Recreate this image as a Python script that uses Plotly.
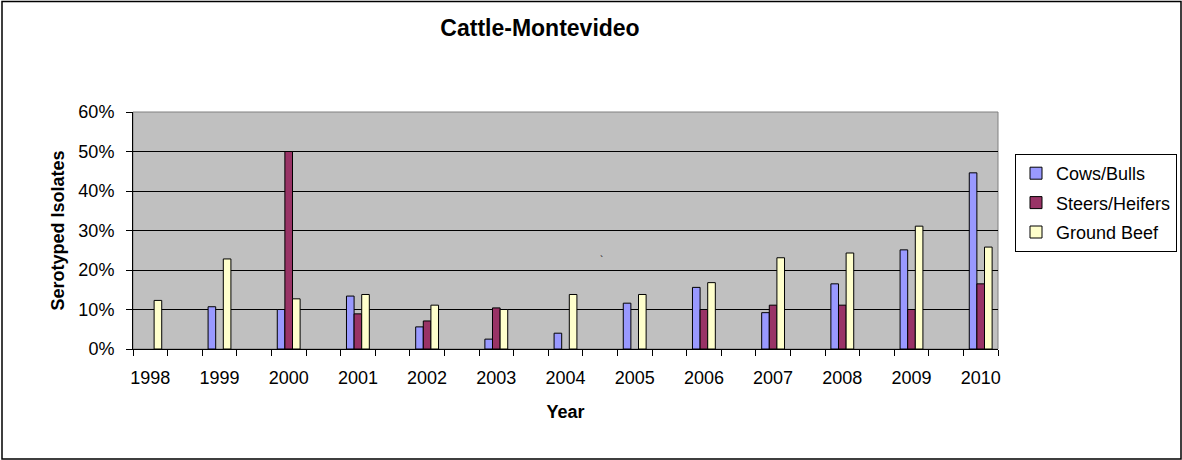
import plotly.graph_objects as go

# Values (fractions of serotyped isolates)
years = [1998, 1999, 2000, 2001, 2002, 2003, 2004, 2005, 2006, 2007, 2008, 2009, 2010]
cows_bulls = [None, 0.107, 0.100, 0.134, 0.056, 0.025, 0.040, 0.116, 0.156, 0.092, 0.165, 0.251, 0.446]
steers_heifers = [None, None, 0.500, 0.089, 0.071, 0.104, None, None, 0.100, 0.111, 0.111, 0.100, 0.165]
ground_beef = [0.123, 0.228, 0.127, 0.138, 0.111, 0.100, 0.138, 0.138, 0.168, 0.231, 0.243, 0.311, 0.258]

series = [
    ("Cows/Bulls", cows_bulls, "#9999FF"),
    ("Steers/Heifers", steers_heifers, "#993366"),
    ("Ground Beef", ground_beef, "#FFFFCC"),
]

W, H = 1182, 460
L, R, T, B = 133, 184, 112, 111
pw, ph = W - L - R, H - T - B

fig = go.Figure()
for name, vals, color in series:
    fig.add_trace(go.Bar(
        x=years, y=vals, name=name, legendgroup=name,
        marker=dict(color=color, line=dict(color="black", width=1)),
        hovertemplate="%{x}: %{y:.1%}<extra>" + name + "</extra>",
    ))

font = "Liberation Sans, Arial, sans-serif"

fig.update_layout(
    width=W, height=H,
    margin=dict(l=L, r=R, t=T, b=B, autoexpand=False),
    paper_bgcolor="white",
    plot_bgcolor="#C0C0C0",
    barmode="group",
    bargap=0.67,
    bargroupgap=0,
    font=dict(family=font, size=18, color="black"),
    title=dict(
        text="<b>Cattle-Montevideo</b>",
        x=540 / W, xanchor="center",
        y=1 - 28 / H, yanchor="middle",
        font=dict(size=23),
    ),
    xaxis=dict(
        range=[1997.75, 2010.25],
        tickvals=years,
        ticktext=[str(y) for y in years],
        ticks="",
        showgrid=False, zeroline=False,
        showline=True, linecolor="black", linewidth=1,
        tickfont=dict(size=18),
        ticklabelstandoff=12,
        minor=dict(ticks="outside", tick0=1997.75, dtick=0.5,
                   ticklen=6, tickcolor="black", tickwidth=1, showgrid=False),
        title=dict(text="<b>Year</b>", font=dict(size=18), standoff=18),
    ),
    yaxis=dict(
        range=[0, 0.6],
        dtick=0.1,
        tickformat=".0%",
        ticks="outside", ticklen=6, tickcolor="black",
        ticklabelstandoff=8,
        showgrid=True, gridcolor="black", gridwidth=1,
        zeroline=False,
        showline=True, linecolor="black", linewidth=1,
        tickfont=dict(size=18),
        title=dict(text="<b>Serotyped Isolates</b>", font=dict(size=18), standoff=9),
    ),
    legend=dict(
        x=(1015 - L) / pw, xanchor="left",
        y=(H - B - 154) / ph, yanchor="top",
        bordercolor="black", borderwidth=1,
        bgcolor="white",
        font=dict(size=18),
        itemwidth=30,
        tracegroupgap=3,
    ),
    showlegend=True,
)

# small stray mark visible in the source chart
fig.add_annotation(text="`", xref="paper", yref="paper",
                   x=(601 - L) / pw, y=(H - B - 260) / ph,
                   showarrow=False, font=dict(size=10))

# gray frame on top/right of plot area and outer chart border
fig.add_shape(type="rect", xref="paper", yref="paper", x0=0, x1=1, y0=0, y1=1,
              line=dict(color="#808080", width=1), layer="below")
fig.add_shape(type="rect", xref="paper", yref="paper",
              x0=(2 - L) / pw, x1=(W - 1 - L) / pw,
              y0=-(B - 1) / ph, y1=1 + (T - 1.5) / ph,
              line=dict(color="black", width=1.5))

# drop the default page margin so the chart sits at the window origin
fig.write_html("out.html", config={"displayModeBar": False},
               post_script="document.body.style.margin='0';")
